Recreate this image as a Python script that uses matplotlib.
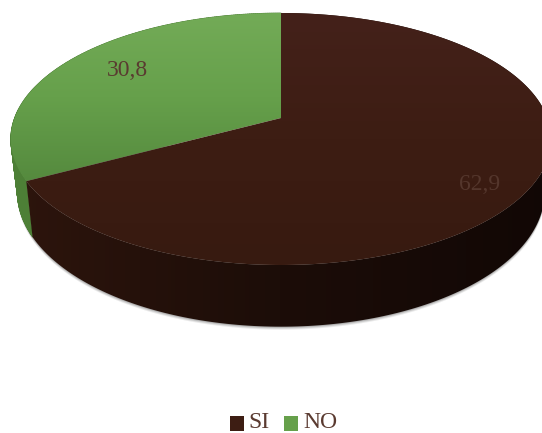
import numpy as np
import matplotlib
matplotlib.use("Agg")
import matplotlib.pyplot as plt
from matplotlib.collections import PolyCollection
from matplotlib.colors import LinearSegmentedColormap
from matplotlib.patches import Polygon, Rectangle

categories = ["SI", "NO"]
values = [62.9, 30.8]

SI_TOP = ["#44211a", "#3d1d13", "#371a10"]
NO_TOP = ["#73ab57", "#66a04b", "#558a3e"]
SI_SIDE = ["#2e150d", "#1c0d08", "#110705"]
NO_SIDE = "#4d7f36"
TEXT = "#5a3a30"


def rim(deg, cy, a, b, k=1 / 6):
    # clockwise degrees from 12 o'clock -> pixel position, with a bit of perspective
    t = np.radians(deg)
    u, v = np.sin(t), np.cos(t)
    return 281 + a * u / (1 + k * v), cy - b * v / (1 + k * v)


def side_rims(start, end):
    deg = np.linspace(start, end, 240)
    xt, yt = rim(deg, 118, 266.5, 122.5)
    xb, yb = rim(deg, 169.5, 260, 131)
    return xt, yt, xb, yb


def clipped_gradient(ax, pts, colors, vertical, extent, zorder):
    poly = Polygon(pts, closed=True, facecolor="none", edgecolor="none")
    ax.add_patch(poly)
    grad = np.linspace(0, 1, 256)
    grad = grad.reshape(-1, 1) if vertical else grad.reshape(1, -1)
    cmap = LinearSegmentedColormap.from_list("grad", colors)
    im = ax.imshow(grad, cmap=cmap, extent=extent, aspect="auto", zorder=zorder)
    im.set_clip_path(poly)


def top_face(ax, start, end, colors, y0=13, y1=265):
    deg = np.linspace(start, end, 240)
    x, y = rim(deg, 118, 266.5, 122.5)
    pts = np.column_stack([np.r_[281, x], np.r_[118, y]])
    clipped_gradient(ax, pts, colors, True, (0, 560, y1, y0), 3)


def side_gradient(ax, start, end, colors):
    xt, yt, xb, yb = side_rims(start, end)
    pts = np.column_stack([np.r_[xt, xb[::-1]], np.r_[yt, yb[::-1]]])
    clipped_gradient(ax, pts, colors, False, (0, 560, 340, 0), 2)


def side_solid(ax, start, end, color):
    # strip of quads, so the wall keeps the full outline where the two rims cross
    xt, yt, xb, yb = side_rims(start, end)
    quads = [[(xt[i], yt[i]), (xt[i + 1], yt[i + 1]), (xb[i + 1], yb[i + 1]), (xb[i], yb[i])]
             for i in range(len(xt) - 1)]
    ax.add_collection(PolyCollection(quads, facecolors=color, edgecolors=color,
                                     linewidths=0.5, zorder=1.5))


fig = plt.figure(figsize=(5.42, 4.33), dpi=100)
ax = fig.add_axes([0, 0, 1, 1])

angles = np.cumsum([0] + values) / sum(values) * 360

# soft shadow under the disc
deg_all = np.linspace(90, 285, 200)
for off, alpha in [(3.0, 0.12), (2.0, 0.18), (1.0, 0.25)]:
    xs, ys = rim(deg_all, 169.5 + off, 260, 131)
    ax.add_patch(Polygon(np.column_stack([xs, ys]), closed=True, facecolor="#555555",
                         edgecolor="none", alpha=alpha, zorder=1))

side_solid(ax, angles[1], angles[2], NO_SIDE)
side_gradient(ax, angles[0], angles[1], SI_SIDE)

top_face(ax, angles[1], angles[2], NO_TOP, y0=13, y1=181)
top_face(ax, angles[0], angles[1], SI_TOP)

# data labels
ax.text(127, 70, f"{values[1]:.1f}".replace(".", ","), color=TEXT, fontsize=17,
        family="Liberation Serif", ha="center", va="center", zorder=5)
ax.text(480, 184, f"{values[0]:.1f}".replace(".", ","), color="#54362c", fontsize=17,
        family="Liberation Serif", ha="center", va="center", zorder=5)

# legend
ax.add_patch(Rectangle((230, 416), 14, 15, facecolor=SI_TOP[1], edgecolor="none"))
ax.text(248, 432.5, categories[0], color=TEXT, fontsize=17, family="Liberation Serif", va="bottom")
ax.add_patch(Rectangle((284, 416), 14, 15, facecolor=NO_TOP[1], edgecolor="none"))
ax.text(303, 432.5, categories[1], color=TEXT, fontsize=17, family="Liberation Serif", va="bottom")

ax.set_xlim(0, 542)
ax.set_ylim(433, 0)
ax.axis("off")

fig.savefig("out.png", dpi=100, facecolor="white")
